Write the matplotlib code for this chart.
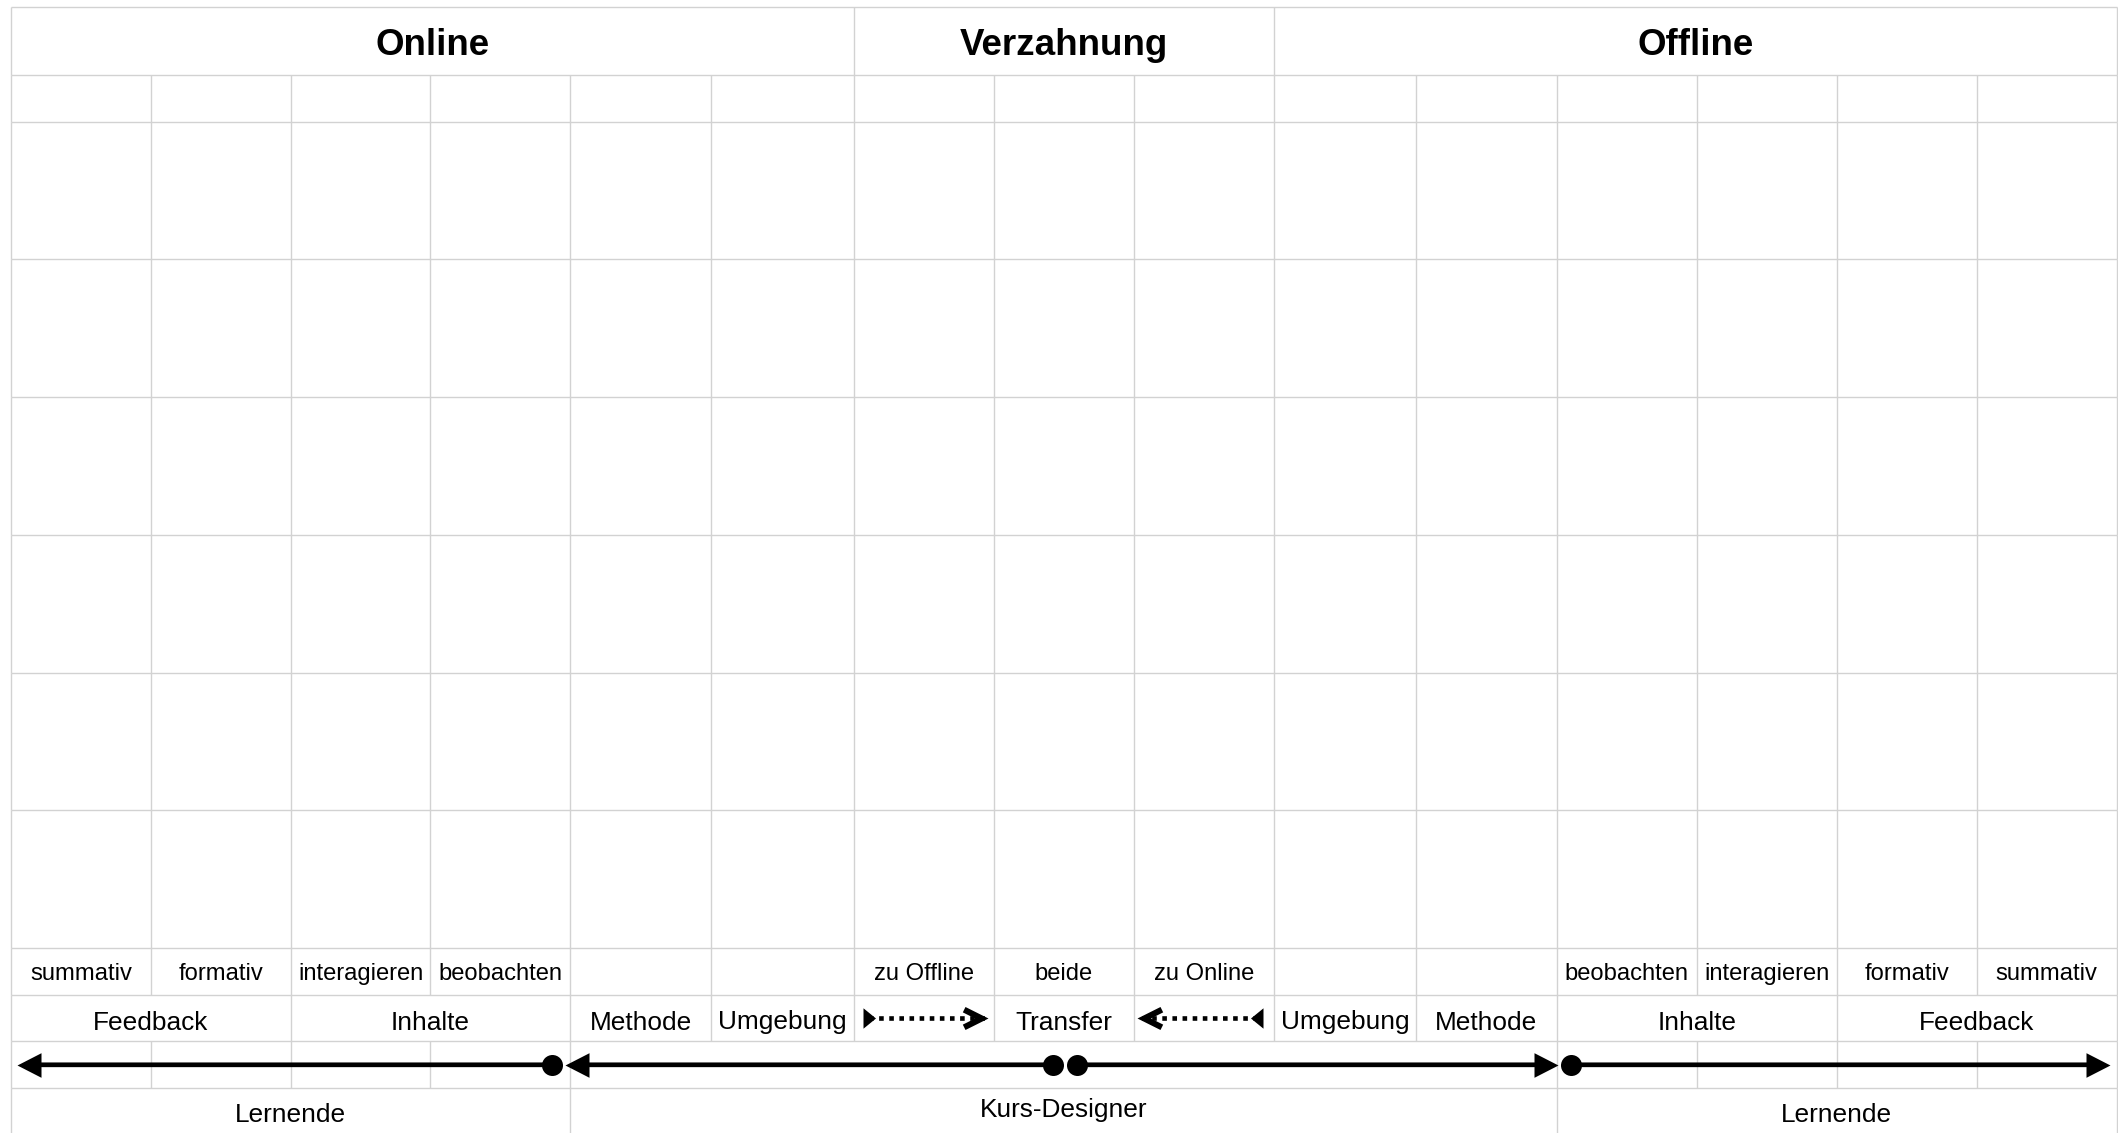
import numpy as np
import matplotlib.pyplot as plt
from matplotlib.path import Path
from matplotlib.markers import MarkerStyle

plt.rcParams['font.family'] = ['Liberation Sans', 'DejaVu Sans']

# --- table content (columns are numbered 0..15) ---
header_names = ["Online", "Verzahnung", "Offline"]
header_spans = [(0, 6), (6, 9), (9, 15)]

sub_labels = ["summativ", "formativ", "interagieren", "beobachten", "", "",
              "zu Offline", "beide", "zu Online", "", "",
              "beobachten", "interagieren", "formativ", "summativ"]

cat_labels = ["Feedback", "Inhalte", "Methode", "Umgebung", "", "Transfer", "",
              "Umgebung", "Methode", "Inhalte", "Feedback"]
cat_spans = [(0, 2), (2, 4), (4, 5), (5, 6), (6, 7), (7, 8), (8, 9),
             (9, 10), (10, 11), (11, 13), (13, 15)]

role_labels = ["Lernende", "Kurs-Designer", "Lernende"]
role_spans = [(0, 4), (4, 11), (11, 15)]

arrow_row_spans = [(0, 1), (1, 2), (2, 3), (3, 4), (4, 11),
                   (11, 12), (12, 13), (13, 14), (14, 15)]

# solid arrows: start (dot) and tip, in column units
arrow_start = [3.87, 7.42, 7.59, 11.10]
arrow_tip = [0.045, 3.96, 11.01, 14.95]

# dotted transfer arrows: tail and tip, in column units
transfer_tail = [6.07, 8.92]
transfer_tip = [6.96, 8.02]

# --- layout (pixels) ---
W, H, DPI = 2118, 1133, 100
col_edges = [11, 150.9, 290.6, 430.4, 570.4, 710.7, 853.5, 994, 1134,
             1274, 1416, 1556.5, 1697, 1837, 1976.7, 2116.7]
row_edges = [6.7, 75, 121.7, 259.4, 397.1, 534.8, 672.5, 810.2, 947.9,
             994.7, 1041.3, 1088.3, 1135.3]
GRID = '#d2d2d2'


def _cx(c):
    # column units -> pixel x
    return np.interp(c, np.arange(16), col_edges)


def _px(p):
    return p * 72 / DPI


def _poly_marker(verts_px):
    verts = np.asarray(verts_px, dtype=float)
    m = np.abs(verts).max()
    v = np.vstack([verts, verts[:1]]) / m
    codes = [Path.MOVETO] + [Path.LINETO] * (len(verts) - 1) + [Path.CLOSEPOLY]
    return MarkerStyle(Path(v, codes)), _px(2 * m)


def _head(d):
    return _poly_marker([(0, 0), (-d * 24, 12.3), (-d * 24, -12.3)])


def _tail(d):
    return _poly_marker([(0, -10.2), (d * 12.5, 0), (0, 10.2)])


def _chevron(d, L=23.0, Hh=11.5, t=6.0):
    s = np.hypot(L, Hh)
    bx, by = -L - t * Hh / s, Hh - t * L / s
    cx = -t * s / Hh
    verts = [(0, 0), (-L, Hh), (bx, by), (cx, 0), (bx, -by), (-L, -Hh)]
    return _poly_marker([(d * x, y) for x, y in verts])


def _center(r):
    return (row_edges[r] + row_edges[r + 1]) / 2


def _cell_text(ax, spans, labels, y, size, weight='normal'):
    for (a, b), lab in zip(spans, labels):
        if lab:
            ax.text((_cx(a) + _cx(b)) / 2, y, lab, ha='center', va='baseline',
                    fontsize=size, fontweight=weight, color='black')


fig = plt.figure(figsize=(W / DPI, H / DPI), dpi=DPI)
ax = fig.add_axes([0, 0, 1, 1])
ax.set_xlim(0, W)
ax.set_ylim(H, 0)
ax.axis('off')

# grid: vertical cell borders row by row
single = [(i, i + 1) for i in range(15)]
row_cells = [header_spans] + [single] * 8 + [cat_spans, arrow_row_spans, role_spans]
for r, spans in enumerate(row_cells):
    xs = sorted({a for a, b in spans} | {b for a, b in spans})
    ax.vlines(_cx(xs), row_edges[r], row_edges[r + 1], color=GRID, lw=1.0)
ax.hlines(row_edges[:-1], _cx(0), _cx(15), color=GRID, lw=1.0)

# texts
_cell_text(ax, header_spans, header_names, _center(0) + 14, 26.5, 'bold')
_cell_text(ax, single, sub_labels, _center(8) + 8.5, 17.1)
_cell_text(ax, cat_spans, cat_labels, _center(9) + 11.5, 18.9)
_cell_text(ax, role_spans[:1], role_labels[:1], 1122.5, 18.9)
_cell_text(ax, role_spans[1:2], role_labels[1:2], 1117, 18.9)
_cell_text(ax, role_spans[2:], role_labels[2:], 1122.5, 18.9)

# solid arrows
ya = _center(10)
for s, t in zip(arrow_start, arrow_tip):
    d = np.sign(t - s)
    ax.annotate("", xy=(_cx(t), ya), xytext=(_cx(s), ya),
                arrowprops=dict(arrowstyle='-', color='black', lw=_px(4.7),
                                shrinkA=0, shrinkB=8))
    mk, ms = _head(d)
    ax.plot([_cx(t)], [ya], linestyle='none', marker=mk, markersize=ms,
            markerfacecolor='black', markeredgewidth=0)
ax.plot(_cx(arrow_start), [ya] * len(arrow_start), linestyle='none', marker='o',
        markersize=_px(21), color='black', markeredgewidth=0)

# dotted transfer arrows
yt = _center(9)
for s, t in zip(transfer_tail, transfer_tip):
    d = np.sign(t - s)
    ax.plot([_cx(s), _cx(t)], [yt, yt], color='black', lw=_px(4.6),
            linestyle=(1.0, (1.0, 1.2)), dash_capstyle='butt')
    mk, ms = _tail(d)
    ax.plot([_cx(s)], [yt], linestyle='none', marker=mk, markersize=ms,
            markerfacecolor='black', markeredgewidth=0)
    mk, ms = _chevron(d)
    ax.plot([_cx(t)], [yt], linestyle='none', marker=mk, markersize=ms,
            markerfacecolor='black', markeredgewidth=0)

fig.savefig('out.png', dpi=DPI, facecolor='white')
